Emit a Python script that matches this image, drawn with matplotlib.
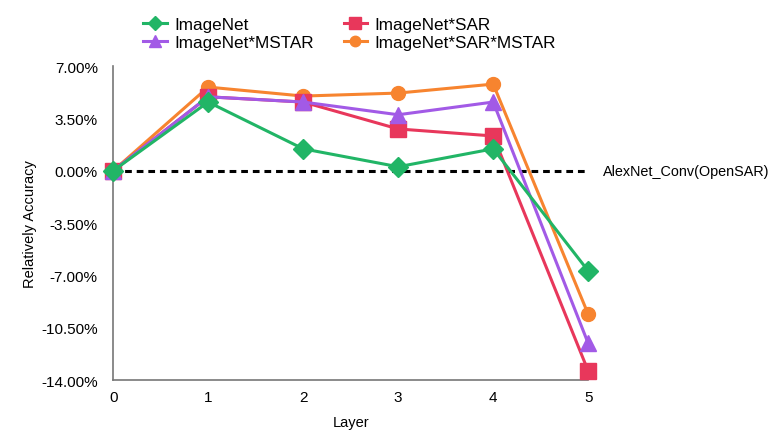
import matplotlib
matplotlib.use("Agg")
import matplotlib.pyplot as plt
from matplotlib.ticker import FuncFormatter

plt.rcParams['font.family'] = ['Liberation Sans', 'DejaVu Sans']

layers = [0, 1, 2, 3, 4, 5]
imagenet = [0.0, 4.6, 1.47, 0.27, 1.47, -6.7]
imagenet_mstar = [0.0, 4.95, 4.6, 3.75, 4.6, -11.55]
imagenet_sar = [0.0, 4.95, 4.6, 2.8, 2.33, -13.4]
imagenet_sar_mstar = [0.0, 5.6, 5.0, 5.2, 5.8, -9.6]
baseline = [0.0, 0.0]
yticks = [7.0, 3.5, 0.0, -3.5, -7.0, -10.5, -14.0]

fig = plt.figure(figsize=(7.75, 4.39), dpi=100)
ax = fig.add_axes([0.146, 0.132, 0.613, 0.715])

ax.plot([layers[0], layers[-1]], baseline, color='black', lw=2.2, ls=(0, (2.2, 1.6)), zorder=1)
h1, = ax.plot(layers, imagenet, color='#21b566', lw=2.2, marker='D', ms=10, label='ImageNet', zorder=5)
h3, = ax.plot(layers, imagenet_sar, color='#e8375b', lw=2.2, marker='s', ms=11, label='ImageNet*SAR', zorder=3)
h2, = ax.plot(layers, imagenet_mstar, color='#a25ae6', lw=2.2, marker='^', ms=11, label='ImageNet*MSTAR', zorder=4)
h4, = ax.plot(layers, imagenet_sar_mstar, color='#f7842f', lw=2.2, marker='o', ms=10, label='ImageNet*SAR*MSTAR', zorder=2)

ax.text(5.16, 0.0, 'AlexNet_Conv(OpenSAR)', fontsize=10.4, va='center', ha='left')

ax.set_xlim(0, 5)
ax.set_ylim(-14, 7)
ax.set_xticks(layers)
ax.set_yticks(yticks)
ax.yaxis.set_major_formatter(FuncFormatter(lambda v, p: f"{v:.2f}%"))
ax.tick_params(axis='both', length=0, labelsize=11)
ax.tick_params(axis='y', pad=11)
ax.tick_params(axis='x', pad=7)
ax.set_xlabel('Layer', fontsize=10.5, labelpad=8)
ax.set_ylabel('Relatively Accuracy', fontsize=10.5, labelpad=3)
for s in ['top', 'right']:
    ax.spines[s].set_visible(False)
for s in ['left', 'bottom']:
    ax.spines[s].set_color('#777777')
    ax.spines[s].set_linewidth(1.2)
for line in ax.lines:
    line.set_clip_on(False)

fig.legend(handles=[h1, h2, h3, h4], labels=['ImageNet', 'ImageNet*MSTAR', 'ImageNet*SAR', 'ImageNet*SAR*MSTAR'],
           ncol=2, loc='upper left', bbox_to_anchor=(0.165, 0.995), frameon=False,
           fontsize=12.3, handlelength=1.4, handletextpad=0.4, columnspacing=1.75,
           labelspacing=0.2, markerscale=0.75)

fig.savefig('out.png', dpi=100)
